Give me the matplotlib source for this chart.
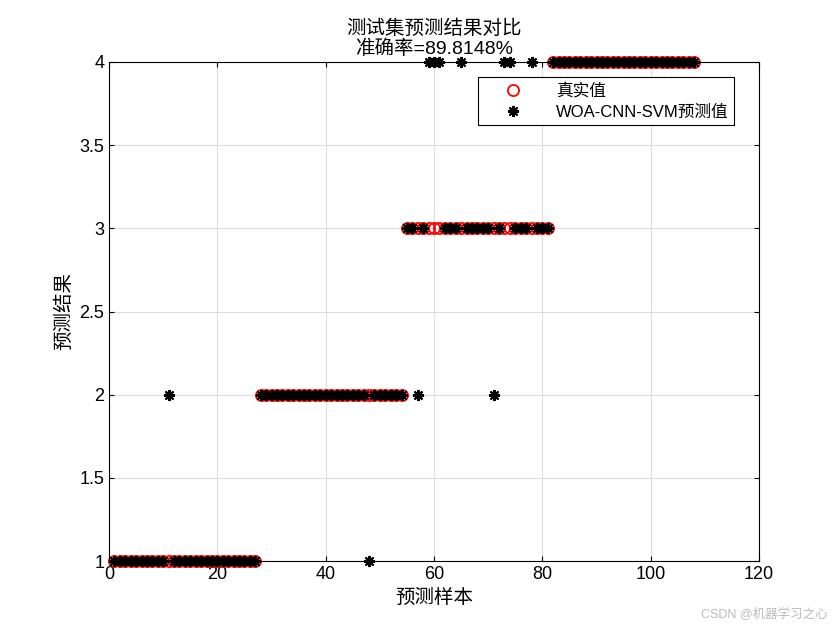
import matplotlib
matplotlib.use('Agg')
import matplotlib.pyplot as plt
import numpy as np

plt.rcParams['font.family'] = ['Liberation Sans', 'Noto Sans CJK SC']

n = 108
true_vals = [1]*27 + [2]*27 + [3]*27 + [4]*27
err_idx = [11, 48, 57, 59, 60, 61, 65, 71, 73, 74, 78]
err_pred = [2, 1, 2, 4, 4, 4, 4, 2, 4, 4, 4]
pred_vals = list(true_vals)
for i, p in zip(err_idx, err_pred):
    pred_vals[i-1] = p
x = np.arange(1, n+1)

fig = plt.figure(figsize=(8.4, 6.3), dpi=100)
ax = fig.add_axes([109/840, 1-561/630, 650/840, 499/630])
ax.plot(x, true_vals, 'o', mfc='none', mec='red', ms=8, mew=1.3, label='真实值', linestyle='none')
ax.plot(x, pred_vals, marker=(8, 2, 0), color='black', mec='black', ms=8, mew=1.5,
        label='WOA-CNN-SVM预测值', linestyle='none')
ax.set_xlim(0, 120)
ax.set_ylim(1, 4)
ax.set_xticks(range(0, 121, 20))
ax.set_yticks([1, 1.5, 2, 2.5, 3, 3.5, 4])
ax.set_yticklabels(['1', '1.5', '2', '2.5', '3', '3.5', '4'])
ax.grid(True, color='#dddddd', linewidth=0.8)
ax.tick_params(labelsize=13, direction='in', top=True, right=True)
for s in ax.spines.values():
    s.set_linewidth(0.8)
ax.set_xlabel('预测样本', fontsize=14)
ax.set_ylabel('预测结果', fontsize=14)
ax.set_title('测试集预测结果对比\n准确率=89.8148%', fontsize=14, linespacing=1.05)
leg = ax.legend(loc='upper right', bbox_to_anchor=(0.975, 0.987), fontsize=12, fancybox=False,
                edgecolor='black', framealpha=1, borderpad=0.35, handlelength=3.5,
                handletextpad=0.8, labelspacing=0.35)
leg.get_frame().set_linewidth(0.8)
for sp in ax.lines:
    sp.set_clip_on(False)
fig.text(0.985, 0.02, 'CSDN @机器学习之心', ha='right', fontsize=9, color='#bbbbbb')
fig.savefig('out.png', dpi=100)
